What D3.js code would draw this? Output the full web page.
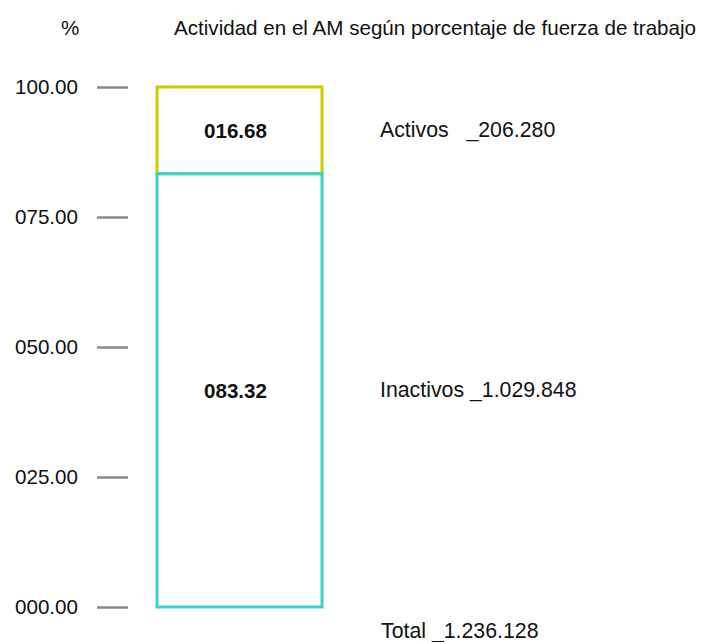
<!DOCTYPE html>
<html>
<head>
<meta charset="utf-8">
<script src="https://cdn.jsdelivr.net/npm/d3@7"></script>
<style>
  html, body { margin: 0; padding: 0; background: #fff; }
  text { font-family: "Liberation Sans", Arial, sans-serif; white-space: pre; }
</style>
</head>
<body>
<svg id="chart" width="702" height="642"></svg>
<script>
// Data
const categories = ["Inactivos", "Activos"];
const percentages = [83.32, 16.68];
const counts = ["1.029.848", "206.280"];
const separators = [" _", "   _"];
const totalLabel = "Total _1.236.128";
const tickValues = [0, 25, 50, 75, 100];
const colors = ["#3ccfcf", "#cccc00"];
const title = "Actividad en el AM según porcentaje de fuerza de trabajo";
const unitLabel = "%";

const svg = d3.select("#chart");
const fmt = d3.format("06.2f");
const FS = "20.6px";
const FS_R = "21.3px";

const y = d3.scaleLinear().domain([0, 100]).range([607, 87]);
const x = d3.scaleBand().domain(["bar"]).range([157, 322]).padding(0);

// stacked segments
let acc = 0;
const segs = categories.map((c, i) => {
  const s = { cat: c, v0: acc, v1: acc + percentages[i], color: colors[i], count: counts[i], sep: separators[i] };
  acc += percentages[i];
  return s;
});

// axis
const axis = d3.axisLeft(y).tickValues(tickValues).tickFormat(fmt).tickSize(31).tickPadding(19);
const gAxis = svg.append("g").attr("transform", "translate(128,0)").call(axis);
gAxis.select(".domain").remove();
gAxis.selectAll(".tick line").attr("stroke", "#888").attr("stroke-width", 2.5);
gAxis.selectAll(".tick text").attr("fill", "#111").style("font-size", FS).attr("font-family", null);

// bars (top segment first so the lower segment's top border sits above it)
const order = segs.slice().reverse();
svg.append("g").selectAll("rect").data(order).join("rect")
  .attr("x", x("bar"))
  .attr("width", x.bandwidth())
  .attr("y", d => y(d.v1))
  .attr("height", d => y(d.v0) - y(d.v1))
  .attr("fill", "none")
  .attr("stroke", d => d.color)
  .attr("stroke-width", 3);

// value labels inside bars
svg.append("g").selectAll("text").data(segs).join("text")
  .attr("x", x("bar") + x.bandwidth() / 2 - 4)
  .attr("y", d => (y(d.v0) + y(d.v1)) / 2)
  .attr("dy", "0.35em")
  .attr("text-anchor", "middle")
  .style("font-size", FS)
  .style("font-weight", "bold")
  .attr("fill", "#111")
  .text(d => fmt(d.v1 - d.v0));

// right labels
svg.append("g").selectAll("text").data(segs).join("text")
  .attr("x", 380)
  .attr("y", d => (y(d.v0) + y(d.v1)) / 2 - 1)
  .attr("dy", "0.35em")
  .style("font-size", FS_R)
  .attr("fill", "#111")
  .text(d => d.cat + d.sep + d.count);

svg.append("text")
  .attr("x", 381).attr("y", y(0) + 24).attr("dy", "0.35em")
  .style("font-size", FS_R).attr("fill", "#111")
  .text(totalLabel);

// header
svg.append("text").attr("x", 61).attr("y", 28).attr("dy", "0.35em")
  .style("font-size", FS).attr("fill", "#111").text(unitLabel);
svg.append("text").attr("x", 174).attr("y", 28).attr("dy", "0.35em")
  .style("font-size", FS).attr("fill", "#111").text(title);
</script>
</body>
</html>
